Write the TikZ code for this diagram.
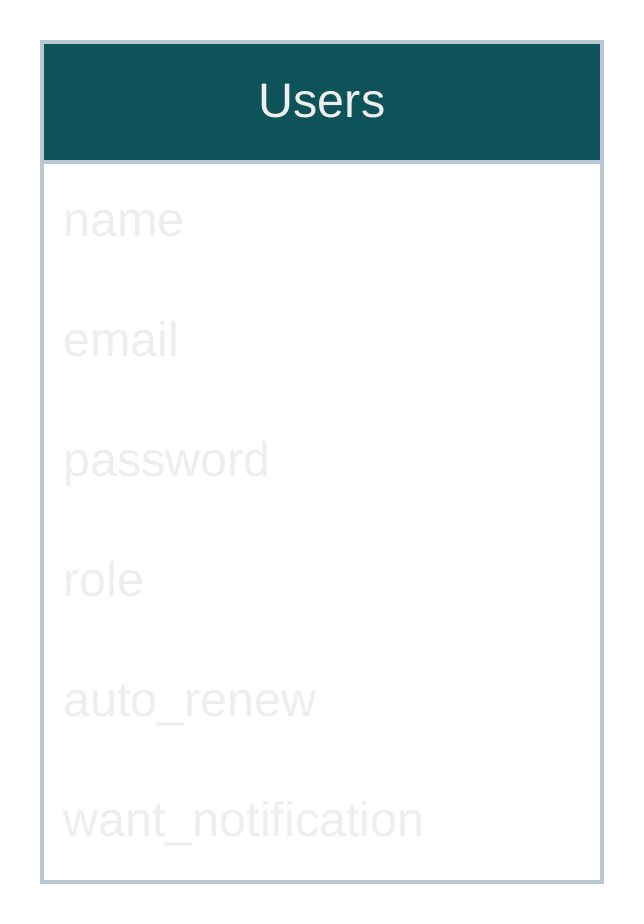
\documentclass[tikz,border=0pt]{standalone}
\usepackage{fontspec}
\setmainfont{Liberation Sans}
\definecolor{headteal}{HTML}{0D5359}
\definecolor{frameblue}{HTML}{B9C7D3}
\definecolor{fieldgray}{HTML}{EEEEEE}

\begin{document}
\begin{tikzpicture}[
  x=1pt, y=-1pt,
  header/.style={fill=headteal, draw=frameblue, line width=4pt},
  frame/.style={draw=frameblue, line width=4pt},
  title/.style={anchor=base, text=fieldgray, font=\fontsize{48.5}{58}\selectfont, inner sep=0pt},
  field/.style={anchor=base west, text=fieldgray, font=\fontsize{48.5}{58}\selectfont, inner sep=0pt}
]
  \useasboundingbox (0,0) rectangle (644,924);
  \fill[white] (0,0) rectangle (644,924);
  \draw[frame] (42,42) rectangle (602,882);
  \draw[header] (42,42) rectangle (602,161.5);
  \node[title] (users) at (322,117) {Users};
  \node[field] (name) at (63,236) {name};
  \node[field] (email) at (63,356) {email};
  \node[field] (password) at (63,476) {password};
  \node[field] (role) at (63,596) {role};
  \node[field] (autorenew) at (63,716) {auto\_renew};
  \node[field] (notify) at (63,836) {want\_notification};
\end{tikzpicture}
\end{document}
